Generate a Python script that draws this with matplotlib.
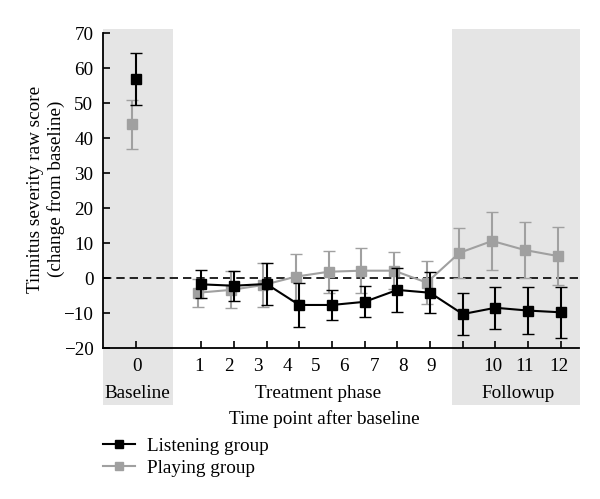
import numpy as np
import matplotlib
matplotlib.use("Agg")
import matplotlib.pyplot as plt
from matplotlib.patches import Rectangle
from matplotlib.lines import Line2D

# values
points = [1, 2, 3, 4, 5, 6, 7, 8, 9, 10, 11, 12]
listening_base, listening_base_err = 57.0, 7.4
playing_base, playing_base_err = 43.9, 7.0
listening_mean = [-1.8, -2.2, -1.7, -7.7, -7.7, -6.8, -3.4, -4.2, -10.3, -8.5, -9.3, -9.8]
listening_err = [4.0, 4.3, 6.0, 6.3, 4.4, 4.4, 6.2, 5.9, 6.1, 6.0, 6.8, 7.3]
playing_mean = [-4.2, -3.4, -2.0, 0.4, 1.8, 2.1, 2.1, -1.3, 7.2, 10.6, 8.0, 6.3]
playing_err = [4.0, 5.3, 6.4, 6.6, 6.0, 6.4, 5.2, 6.2, 7.2, 8.3, 8.0, 8.4]
tick_labels = ['0', '1', '2', '3', '4', '5', '6', '7', '8', '9', '10', '11', '12']
phases = ['Baseline', 'Treatment phase', 'Followup']

# layout (labels in the original are not exactly under the ticks)
base_x = -1
label_pos = [-0.95, 0.94, 1.86, 2.74, 3.63, 4.49, 5.37, 6.29, 7.18, 8.03, 9.93, 10.88, 11.95]
phase_pos = [-0.95, 4.57, 10.68]
dodge = -0.1
gray = '#a0a0a0'
shade = '#e5e5e5'

plt.rcParams['font.family'] = ['Liberation Serif', 'DejaVu Serif']
plt.rcParams['font.size'] = 13.8

fig = plt.figure(figsize=(6, 4.99), dpi=100)
ax = fig.add_axes([0.1717, 0.3026, 0.793, 0.631])
ax.set_xlim(-2, 12.55)
ax.set_ylim(-20, 70)

# shaded baseline / followup regions (reach down under the labels)
for x0, x1 in [(-2, 0.14), (8.68, 12.6)]:
    ax.add_patch(Rectangle((x0, -36.3), x1 - x0, 107.4, facecolor=shade,
                           edgecolor='none', clip_on=False, zorder=0))

ax.axhline(0, color='black', lw=1.2, ls=(0, (5, 3)), zorder=1)

px = np.array(points) + dodge
ax.errorbar(px, playing_mean, yerr=playing_err, color=gray, marker='s', ms=7,
            lw=1.5, elinewidth=1.5, capsize=4, zorder=2)
ax.errorbar([base_x + dodge], [playing_base], yerr=[playing_base_err], color=gray,
            marker='s', ms=7, lw=1.5, elinewidth=1.5, capsize=4, zorder=2)
ax.errorbar(points, listening_mean, yerr=listening_err, color='black', marker='s', ms=7.5,
            lw=1.5, elinewidth=1.5, capsize=4, zorder=3)
ax.errorbar([base_x], [listening_base], yerr=[listening_base_err], color='black',
            marker='s', ms=7.5, lw=1.5, elinewidth=1.5, capsize=4, zorder=3)

for s in ['top', 'right']:
    ax.spines[s].set_visible(False)
ax.spines['left'].set_linewidth(1.3)
ax.spines['bottom'].set_linewidth(1.3)

ax.set_yticks(np.arange(-20, 71, 10))
ax.set_xticks([base_x] + points, [''] * 13)
ax.set_xticks(label_pos, tick_labels, minor=True)
ax.tick_params(which='major', direction='in', length=5, width=1.2, pad=7)
ax.tick_params(axis='x', which='minor', length=0, pad=7)

for name, xp in zip(phases, phase_pos):
    ax.text(xp, -32.9, name, ha='center', va='center')

ax.set_xlabel('Time point after baseline')
ax.xaxis.label.set_va('center')
ax.xaxis.set_label_coords(0.465, -0.225)
ax.set_ylabel('Tinnitus severity raw score\n(change from baseline)')
ax.yaxis.label.set_va('center')
ax.yaxis.set_label_coords(-0.12, 0.505)

handles = [Line2D([], [], color='black', marker='s', ms=6, lw=1.5),
           Line2D([], [], color=gray, marker='s', ms=6, lw=1.5)]
fig.legend(handles, ['Listening group', 'Playing group'], loc='upper left',
           bbox_to_anchor=(0.155, 0.143), frameon=False, handlelength=1.7,
           handletextpad=0.6, labelspacing=0.25, borderpad=0)

fig.savefig('out.png', dpi=100)
